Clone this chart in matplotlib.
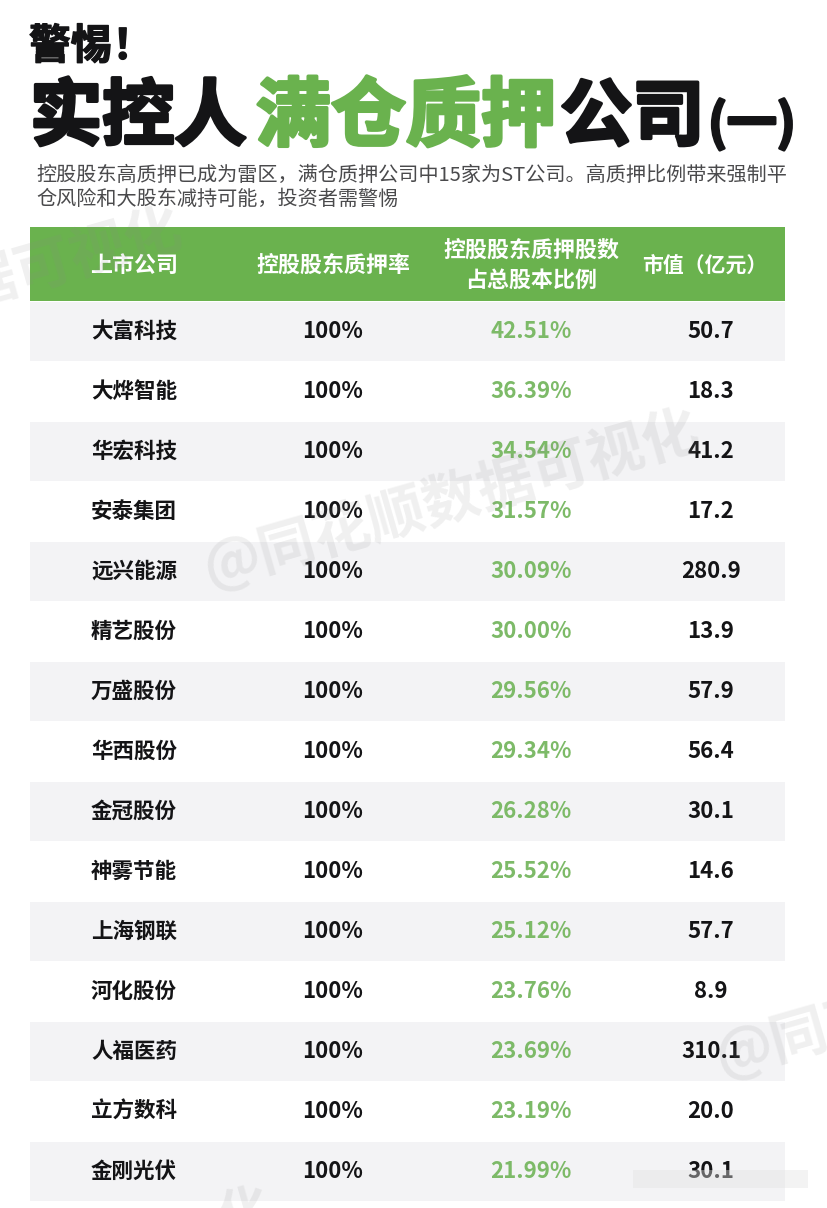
import numpy as np
from matplotlib import pyplot as plt
from matplotlib import patheffects as pe

plt.rcParams['font.family'] = ['Noto Sans CJK SC', 'DejaVu Sans']

companies = ['大富科技', '大烨智能', '华宏科技', '安泰集团', '远兴能源', '精艺股份', '万盛股份', '华西股份',
             '金冠股份', '神雾节能', '上海钢联', '河化股份', '人福医药', '立方数科', '金刚光伏']
pledge_rate = [100] * 15
pledge_share = [42.51, 36.39, 34.54, 31.57, 30.09, 30.00, 29.56, 29.34,
                26.28, 25.52, 25.12, 23.76, 23.69, 23.19, 21.99]
market_cap = [50.7, 18.3, 41.2, 17.2, 280.9, 13.9, 57.9, 56.4,
              30.1, 14.6, 57.7, 8.9, 310.1, 20.0, 30.1]

GREEN = '#6ab24e'
TEXT_GREEN = '#7dba68'
DARK = '#141416'
STRIPE = '#f3f3f5'

fig = plt.figure(figsize=(8.28, 12.08), dpi=100)
ax = fig.add_axes([0, 0, 1, 1])
ax.set_xlim(0, 828)
ax.set_ylim(1208, 0)
ax.axis('off')


def title_part(x, y, s, size, color, stroke):
    t = ax.text(x, y, s, fontsize=size, color=color, fontweight='bold', ha='left', va='center')
    t.set_path_effects([pe.withStroke(linewidth=stroke, foreground=color)])


# title
title_part(29, 47, '警惕！', 30, DARK, 1)
title_part(30, 118, '实控人', 52, DARK, 2.5)
title_part(256, 118, '满仓质押', 54, GREEN, 2.5)
title_part(560, 118, '公司', 52, DARK, 2.5)
title_part(708, 125, '(一)', 36, DARK, 2)

ax.text(36, 175, '控股股东高质押已成为雷区，满仓质押公司中15家为ST公司。高质押比例带来强制平',
        fontsize=14.5, color='#4a4a4c', va='center', ha='left')
ax.text(36, 199, '仓风险和大股东减持可能，投资者需警惕',
        fontsize=14.5, color='#4a4a4c', va='center', ha='left')

# table
rows = np.arange(len(companies))
row_y = 331 + rows * 60
ax.barh(row_y[::2], 755, height=59, left=30, color=STRIPE, zorder=1)
ax.barh([264], 755, height=74, left=30, color=GREEN, zorder=1)

head = dict(color='white', fontsize=15.8, fontweight='bold', ha='center', va='center', zorder=3)
ax.text(134, 265, '上市公司', **head)
ax.text(333, 265, '控股股东质押率', **head)
ax.text(531, 250, '控股股东质押股数', **head)
ax.text(531, 280, '占总股本比例', **head)
ax.text(705, 265, '市值（亿元）', color='white', fontsize=15, fontweight='bold', ha='center', va='center', zorder=3)

for y, name, rate, share, cap in zip(row_y, companies, pledge_rate, pledge_share, market_cap):
    ax.text(134, y, name, fontsize=15.5, fontweight='bold', color=DARK, ha='center', va='center', zorder=3)
    ax.text(333, y, f'{rate}%', fontsize=16, fontweight='bold', color=DARK, ha='center', va='center', zorder=3)
    ax.text(531, y, f'{share:.2f}%', fontsize=16, fontweight='bold', color=TEXT_GREEN, ha='center', va='center', zorder=3)
    ax.text(711, y, f'{cap:.1f}', fontsize=16, fontweight='bold', color=DARK, ha='center', va='center', zorder=3)

# watermarks
mark = dict(color='#8a8a8a', alpha=0.13, fontweight='bold', ha='center', va='center',
            rotation_mode='anchor', zorder=4)
ax.text(452, 500, '@同花顺数据可视化', fontsize=41, rotation=16, **mark)
ax.text(45, 268, '数据可视化', fontsize=41, rotation=16, **mark)
ax.text(800, 1036, '@同花', fontsize=41, rotation=16, **mark)
ax.text(245, 1212, '化', fontsize=36, rotation=16, **mark)

# smudge over the last row
ax.barh([1179], 175, height=18, left=633, color='#e2e2e2', alpha=0.4, zorder=5)

fig.savefig('out.png', dpi=100, facecolor='white')
